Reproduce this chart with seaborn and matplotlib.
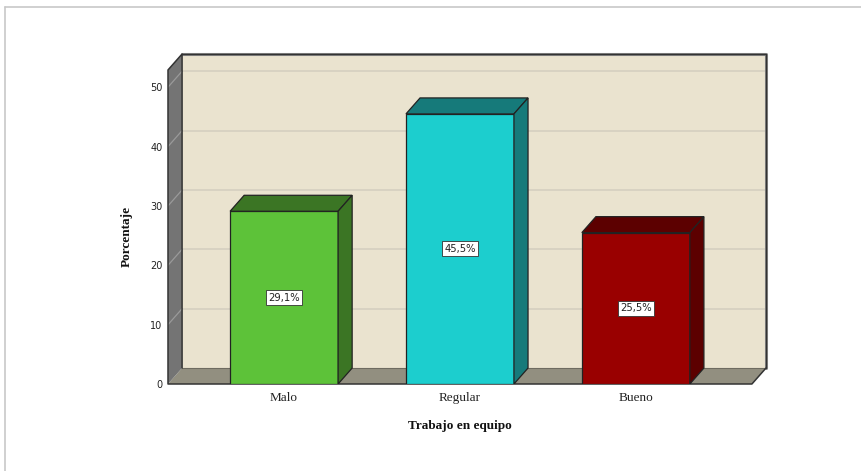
import matplotlib
matplotlib.use("Agg")
import matplotlib.pyplot as plt
import seaborn as sns
import pandas as pd
from matplotlib.patches import Polygon
from matplotlib.lines import Line2D

# Datos del gráfico
categorias = ["Malo", "Regular", "Bueno"]
porcentajes = [29.1, 45.5, 25.5]
etiquetas = ["29,1%", "45,5%", "25,5%"]
ticks_y = [0, 10, 20, 30, 40, 50]

colores_frente = ["#5DC239", "#1CCECE", "#990000"]
colores_lado = ["#3B7524", "#167A7A", "#5C0000"]

sns.set_theme(style="white")
plt.rcParams["font.family"] = ["DejaVu Sans"]

W, H = 861, 471
fig = plt.figure(figsize=(W / 100, H / 100), dpi=100)
fig.patch.set_facecolor("white")

# Marco exterior
fig.add_artist(Line2D([5 / W, 1], [1 - 7 / H, 1 - 7 / H], color="#C8C8C8", lw=1.2))
fig.add_artist(Line2D([5 / W, 5 / W], [0, 1 - 7 / H], color="#C8C8C8", lw=1.2))

ax = fig.add_axes([168 / W, 1 - 384 / H, (766 - 168) / W, (384 - 54) / H])

# Geometría de la caja 3D (en unidades de datos)
x0, x1 = -0.66, 2.66
ymax = 52.9
dx, dy = 0.08, 2.69

df = pd.DataFrame({"cat": categorias, "pct": porcentajes})
sns.barplot(data=df, x="cat", y="pct", hue="cat", palette=colores_frente,
            width=0.614, legend=False, ax=ax, edgecolor="#222222",
            linewidth=0.9, saturation=1, zorder=4)

# Pared del fondo
ax.add_patch(Polygon([(x0 + dx, dy), (x1 + dx, dy), (x1 + dx, ymax + dy), (x0 + dx, ymax + dy)],
                     closed=True, facecolor="#EAE3CF", edgecolor="none", zorder=0))
# Líneas de cuadrícula (fondo y pared lateral)
for v in ticks_y[1:]:
    ax.plot([x0 + dx, x1 + dx], [v + dy, v + dy], color="#D3CEBF", lw=1.1, zorder=1)
# Suelo
ax.add_patch(Polygon([(x0, 0), (x1, 0), (x1 + dx, dy), (x0 + dx, dy)],
                     closed=True, facecolor="#928F80", edgecolor="none", zorder=2))
# Pared lateral izquierda
ax.add_patch(Polygon([(x0, 0), (x0 + dx, dy), (x0 + dx, ymax + dy), (x0, ymax)],
                     closed=True, facecolor="#747474", edgecolor="none", zorder=2))
for v in ticks_y[1:]:
    ax.plot([x0, x0 + dx], [v, v + dy], color="#9A9A9A", lw=0.9, zorder=2.5)

# Bordes de la caja
ax.plot([x0 + dx, x1 + dx, x1 + dx], [ymax + dy, ymax + dy, dy],
        color="#8A8A8A", lw=2.2, zorder=2.9, clip_on=False)
ax.plot([x0 + dx, x1 + dx, x1 + dx], [ymax + dy, ymax + dy, dy],
        color="#333333", lw=1.0, zorder=3, clip_on=False)
ax.plot([x1 + dx, x1, x0, x0, x0 + dx, x0 + dx], [dy, 0, 0, ymax, ymax + dy, dy],
        color="#333333", lw=1.1, zorder=3, clip_on=False)
ax.plot([x0 + dx, x1 + dx], [dy, dy], color="#6E6B60", lw=0.8, zorder=2.6)

# Caras superior y lateral de cada barra, y etiquetas de valor
for patch, lado, etiqueta in zip(ax.patches, colores_lado, etiquetas):
    x = patch.get_x()
    w = patch.get_width()
    h = patch.get_height()
    ax.add_patch(Polygon([(x, h), (x + w, h), (x + w + dx, h + dy), (x + dx, h + dy)],
                         closed=True, facecolor=lado, edgecolor="#222222", lw=0.9, zorder=4))
    ax.add_patch(Polygon([(x + w, 0), (x + w + dx, dy), (x + w + dx, h + dy), (x + w, h)],
                         closed=True, facecolor=lado, edgecolor="#222222", lw=0.9, zorder=4))
    ax.text(x + w / 2, h / 2, etiqueta, ha="center", va="center", fontsize=7.2,
            color="#222222", zorder=6,
            bbox=dict(boxstyle="square,pad=0.25", fc="white", ec="#333333", lw=0.6))

ax.set_xlim(x0, x1 + dx)
ax.set_ylim(0, ymax + dy)
ax.set_yticks(ticks_y)
ax.set_yticklabels([str(t) for t in ticks_y], fontsize=7, color="#222222")
ax.set_xticks(range(len(categorias)))
ax.set_xticklabels(categorias, fontsize=9.5, family="Liberation Serif", color="#222222")
ax.tick_params(axis="y", length=0, pad=4)
ax.tick_params(axis="x", length=0, pad=6)
ax.set_xlabel("")
ax.set_ylabel("")
for s in ax.spines.values():
    s.set_visible(False)
ax.set_facecolor("none")

fig.text(460 / W, 1 - 426 / H, "Trabajo en equipo", ha="center", va="center",
         fontsize=9.5, fontweight="bold", family="Liberation Serif", color="#111111")
fig.text(127 / W, 1 - 236 / H, "Porcentaje", ha="center", va="center", rotation=90,
         fontsize=9.5, fontweight="bold", family="Liberation Serif", color="#111111")

fig.savefig("out.png", dpi=100)
